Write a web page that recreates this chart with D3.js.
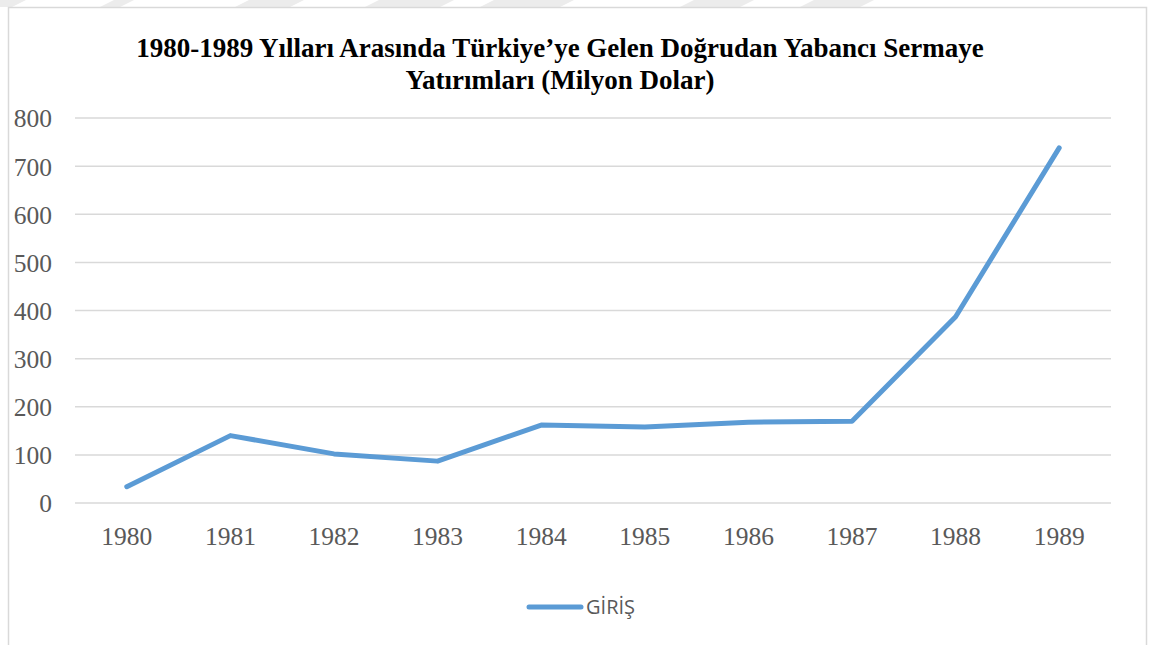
<!DOCTYPE html>
<html>
<head>
<meta charset="utf-8">
<script src="https://cdn.jsdelivr.net/npm/d3@7"></script>
<style>
  body { margin: 0; background: #ffffff; }
  svg { display: block; }
</style>
</head>
<body>
<div id="chart"></div>
<script>
// data
var years = ['1980', '1981', '1982', '1983', '1984', '1985', '1986', '1987', '1988', '1989'];
var giris = [34, 140, 102, 87, 162, 158, 168, 170, 387, 738];
var yTicks = [0, 100, 200, 300, 400, 500, 600, 700, 800];
var titleLines = ['1980-1989 Yılları Arasında Türkiye’ye Gelen Doğrudan Yabancı Sermaye', 'Yatırımları (Milyon Dolar)'];
var seriesName = 'GİRİŞ';

var width = 1149;
var height = 645;
var plot = {'top': 118, 'right': 1111, 'bottom': 503, 'left': 75};

var svg = d3.select('#chart')
    .append('svg')
    .attr('width', width)
    .attr('height', height);

// faint watermark bands along the top edge
var bands = [[-20, 12], [100, 120], [235, 290], [365, 440], [480, 560], [680, 740], [800, 860]];
svg.append('g')
    .selectAll('path')
    .data(bands)
    .enter()
    .append('path')
    .attr('d', function(b){
        return 'M' + b[0] + ',7 L' + (b[0] + 14) + ',0 L' + (b[1] + 14) + ',0 L' + b[1] + ',7 Z';
    })
    .style('fill', '#ececec');

// chart frame
svg.append('rect')
    .attr('x', 8.5)
    .attr('y', 7.5)
    .attr('width', 1138)
    .attr('height', 660)
    .style('fill', '#ffffff')
    .style('stroke', '#d9d9d9')
    .style('stroke-width', 1.5);

var x = d3.scaleBand()
    .domain(years)
    .range([plot.left, plot.right]);

var y = d3.scaleLinear()
    .domain([0, 800])
    .range([plot.bottom, plot.top]);

// gridlines
svg.append('g')
    .selectAll('line')
    .data(yTicks)
    .enter()
    .append('line')
    .attr('x1', plot.left)
    .attr('x2', plot.right)
    .attr('y1', function(d){ return y(d); })
    .attr('y2', function(d){ return y(d); })
    .style('stroke', '#d9d9d9')
    .style('stroke-width', 1.5);

// y axis labels
var yAxis = d3.axisLeft(y)
    .tickValues(yTicks)
    .tickSize(0)
    .tickPadding(0);
var yg = svg.append('g')
    .attr('transform', 'translate(52,0)')
    .call(yAxis);
yg.select('.domain').remove();
yg.selectAll('text')
    .attr('dy', '0.35em')
    .style('font-family', '"Liberation Serif", "Times New Roman", serif')
    .style('font-size', '25.5px')
    .style('fill', '#595959');

// x axis labels
var xAxis = d3.axisBottom(x)
    .tickSize(0)
    .tickPadding(0);
var xg = svg.append('g')
    .attr('transform', 'translate(0,' + (plot.bottom + 42) + ')')
    .call(xAxis);
xg.select('.domain').remove();
xg.selectAll('text')
    .attr('y', 0)
    .attr('dy', 0)
    .style('font-family', '"Liberation Serif", "Times New Roman", serif')
    .style('font-size', '25.5px')
    .style('fill', '#595959');

// the line
var line = d3.line()
    .x(function(d, i){ return x(years[i]) + x.bandwidth() / 2; })
    .y(function(d){ return y(d); });

svg.append('path')
    .datum(giris)
    .attr('d', line)
    .style('fill', 'none')
    .style('stroke', '#5b9bd5')
    .style('stroke-width', 5)
    .style('stroke-linejoin', 'round')
    .style('stroke-linecap', 'round');

// title
svg.append('g')
    .selectAll('text')
    .data(titleLines)
    .enter()
    .append('text')
    .attr('x', 560)
    .attr('y', function(d, i){ return 57 + i * 32; })
    .attr('text-anchor', 'middle')
    .style('font-family', '"Liberation Serif", "Times New Roman", serif')
    .style('font-weight', 'bold')
    .style('font-size', '27px')
    .style('fill', '#000000')
    .text(function(d){ return d; });

// legend
var legend = svg.append('g');
legend.append('line')
    .attr('x1', 529)
    .attr('x2', 581)
    .attr('y1', 607)
    .attr('y2', 607)
    .style('stroke', '#5b9bd5')
    .style('stroke-width', 5)
    .style('stroke-linecap', 'round');
legend.append('text')
    .attr('x', 586)
    .attr('y', 614)
    .style('font-family', '"Open Sans", "Liberation Sans", sans-serif')
    .style('font-size', '20px')
    .style('fill', '#595959')
    .text(seriesName);
</script>
</body>
</html>
